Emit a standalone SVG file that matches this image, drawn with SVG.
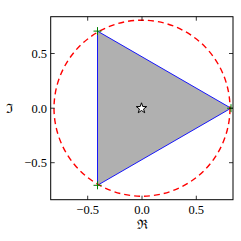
<svg xmlns="http://www.w3.org/2000/svg" width="241" height="241" viewBox="0 0 241 241">
<style>
.tick{stroke:#000;stroke-width:0.8;fill:none}
.lbl{font-family:"Liberation Serif","DejaVu Serif",serif;font-size:12.5px;fill:#000}
.ax{font-family:"DejaVu Serif","Liberation Serif",serif;font-size:13px;fill:#000}
.vm{stroke:#008000;stroke-width:1;fill:none}
</style>
<defs>
<path id="plus" d="M-4,0H4M0,-4V4" class="vm"/>
<clipPath id="clip"><rect x="50.7" y="16.7" width="182.3" height="183"/></clipPath>
</defs>
<rect width="241" height="241" fill="#fff"/>
<g id="plot" clip-path="url(#clip)">
<polygon id="triangle" points="231,108.2 97.5,31.1 97.5,185.3" fill="#b0b0b0" stroke="#0000ff" stroke-width="0.9"/>
<circle id="circle" cx="142" cy="108.2" r="88" fill="none" stroke="#ff0000" stroke-width="1.4" stroke-dasharray="6,4"/>
<g id="vertices">
<use href="#plus" x="231" y="108.2"/>
<use href="#plus" x="97.5" y="31.1"/>
<use href="#plus" x="97.5" y="185.3"/>
</g>
<path id="star" transform="translate(141.5,108.3)" d="M0,-5.5 L1.29,-1.78 L5.23,-1.7 L2.09,0.68 L3.23,4.45 L0,2.2 L-3.23,4.45 L-2.09,0.68 L-5.23,-1.7 L-1.29,-1.78 Z" fill="#fff" stroke="#000" stroke-width="1"/>
</g>
<g id="axes">
<rect x="50.7" y="16.7" width="182.3" height="183" fill="none" stroke="#000" stroke-width="1"/>
<path class="tick" d="M87.7,199.7v-4M142,199.7v-4M196.3,199.7v-4M87.7,16.7v4M142,16.7v4M196.3,16.7v4M50.7,53.5h4M50.7,108.2h4M50.7,162.7h4M233,53.5h-4M233,108.2h-4M233,162.7h-4"/>
<g text-anchor="middle" class="lbl">
<text x="87.7" y="214" class="lbl">−0.5</text>
<text x="142" y="214" class="lbl">0.0</text>
<text x="196.3" y="214" class="lbl">0.5</text>
</g>
<g text-anchor="end">
<text x="47" y="57.8" class="lbl">0.5</text>
<text x="47" y="112.5" class="lbl">0.0</text>
<text x="47" y="167" class="lbl">−0.5</text>
</g>
<text x="142" y="229" text-anchor="middle" class="ax">ℜ</text>
<text x="9" y="112.5" text-anchor="middle" class="ax">ℑ</text>
</g>
</svg>
